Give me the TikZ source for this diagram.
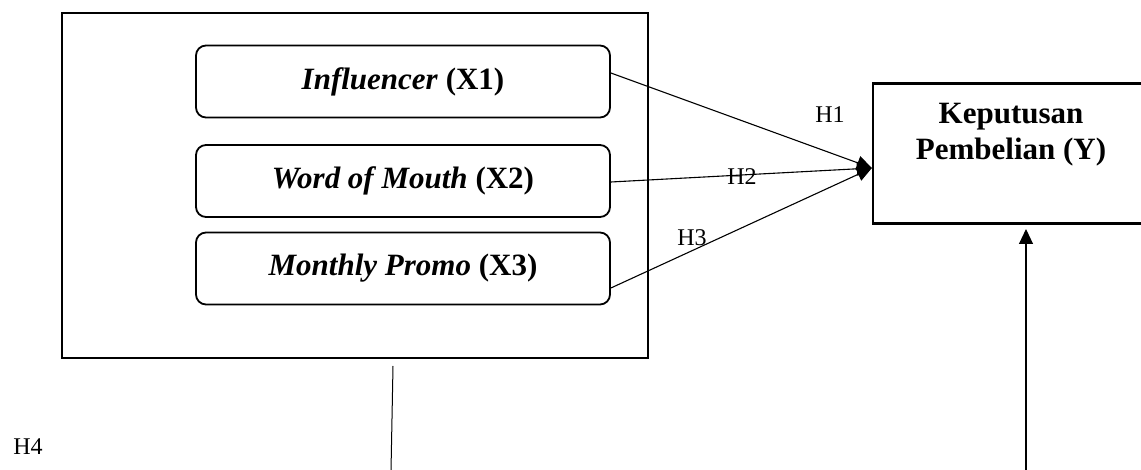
\documentclass[tikz,border=0pt]{standalone}
\usepackage{fontspec}
\setmainfont{Liberation Serif}
\usetikzlibrary{positioning,arrows.meta}

\begin{document}
\begin{tikzpicture}[x=1pt,y=-1pt,
    varbox/.style={draw=black, line width=1.8pt, rounded corners=10pt, minimum width=414pt, minimum height=72pt, font=\fontsize{31}{38}\selectfont\bfseries},
    hyp/.style={font=\fontsize{24}{28}\selectfont},
    link/.style={draw=black, line width=1.1pt, -{Triangle[length=15pt,width=14pt]}}]
    \useasboundingbox (0,0) rectangle (1141,470);

    \node[draw=black, line width=2.4pt, minimum width=586pt, minimum height=345pt] (frame) at (355,185.5) {};
    \node[varbox] (x1) at (403,81.5) {\textit{Influencer} (X1)};
    \node[varbox] (x2) at (403,181) {\textit{Word of Mouth} (X2)};
    \node[varbox] (x3) at (403,268.5) {\textit{Monthly Promo} (X3)};

    \node[draw=black, line width=2.2pt, minimum width=276pt, minimum height=140pt] (y) at (1011,153.5) {};
    \node[font=\fontsize{31}{36}\selectfont\bfseries, align=center, below=17pt of y.north] (ytext) {Keputusan\\Pembelian (Y)};

    \coordinate (yin) at ([yshift=-14.5pt]y.west);
    \draw[link] ([yshift=8.5pt]x1.east) -- (yin);
    \draw[link] ([yshift=-1pt]x2.east) -- (yin);
    \draw[link] ([yshift=-19.5pt]x3.east) -- (yin);

    \node[hyp] (h1) at (830,115) {H1};
    \node[hyp] (h2) at (742,177) {H2};
    \node[hyp] (h3) at (692,238) {H3};
    \node[hyp] (h4) at (28,447) {H4};

    \coordinate (stemtop) at (393,366);
    \coordinate (stembot) at (391,471);
    \draw[black, line width=1pt] (stemtop) -- (stembot);

    \coordinate (yfoot) at (1026,471);
    \draw[link] (yfoot) -- (yfoot |- 0,229);
\end{tikzpicture}
\end{document}
